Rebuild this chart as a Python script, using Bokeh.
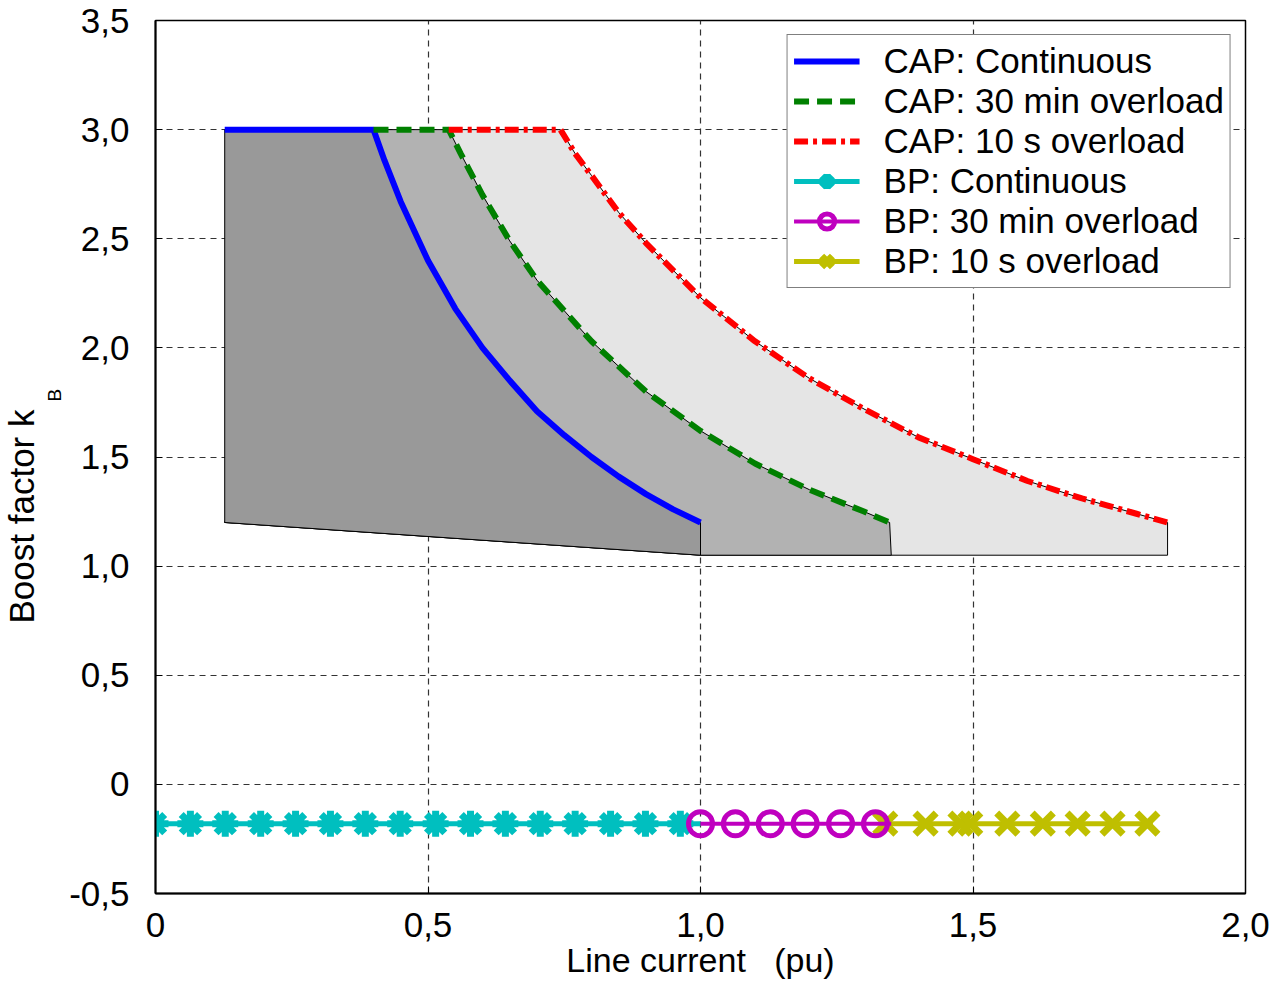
from bokeh.plotting import figure
from bokeh.models import Range1d, FixedTicker, Legend, LegendItem, Title
from bokeh.embed import file_html
from bokeh.resources import INLINE

# ---- data ----
cap_cont_x = [0.127, 0.40, 0.42, 0.45, 0.50, 0.55, 0.60, 0.65, 0.70, 0.75, 0.80, 0.85, 0.90, 0.95, 1.00]
cap_cont_y = [3.00, 3.00, 2.86, 2.67, 2.40, 2.18, 2.00, 1.85, 1.71, 1.60, 1.50, 1.41, 1.33, 1.26, 1.20]

cap_30m_x = [0.40, 0.538, 0.56, 0.60, 0.65, 0.70, 0.80, 0.90, 1.00, 1.10, 1.20, 1.30, 1.347]
cap_30m_y = [3.00, 3.00, 2.89, 2.70, 2.49, 2.31, 2.03, 1.80, 1.62, 1.47, 1.35, 1.25, 1.20]

cap_10s_x = [0.538, 0.743, 0.77, 0.80, 0.85, 0.90, 1.00, 1.10, 1.20, 1.30, 1.40, 1.50, 1.60, 1.70, 1.80, 1.857]
cap_10s_y = [3.00, 3.00, 2.89, 2.79, 2.62, 2.48, 2.23, 2.03, 1.86, 1.72, 1.59, 1.49, 1.39, 1.31, 1.24, 1.20]

# lower edge of the shaded operating regions
base_x = [1.00, 0.127]
base_y = [1.05, 1.20]
base_left_x = [0.127]
base_left_y = [1.20]

bp_cont_x = [0.0, 0.064, 0.128, 0.193, 0.257, 0.321, 0.385, 0.449, 0.514, 0.578,
             0.642, 0.706, 0.770, 0.835, 0.899, 0.963]
bp_cont_line_x = [0.0, 1.0]
bp_30m_x = [1.0, 1.064, 1.128, 1.192, 1.257, 1.321]
bp_30m_line_x = [1.0, 1.35]
bp_10s_x = [1.339, 1.413, 1.477, 1.495, 1.563, 1.628, 1.692, 1.756, 1.820]
bp_10s_line_x = [1.339, 1.830]
bp_level = -0.18

x_ticks = [0.0, 0.5, 1.0, 1.5, 2.0]
x_tick_labels = ["0", "0,5", "1,0", "1,5", "2,0"]
y_ticks = [-0.5, 0.0, 0.5, 1.0, 1.5, 2.0, 2.5, 3.0, 3.5]
y_tick_labels = ["-0,5", "0", "0,5", "1,0", "1,5", "2,0", "2,5", "3,0", "3,5"]

FONT = "Liberation Sans"

p = figure(frame_width=1090, frame_height=873,
           x_range=Range1d(0, 2.0), y_range=Range1d(-0.5, 3.5),
           output_backend="svg", toolbar_location=None,
           min_border_left=155, min_border_right=29, min_border_top=20, min_border_bottom=92)
p.background_fill_color = "white"
p.border_fill_color = "white"
p.outline_line_color = "black"
p.outline_line_width = 1.5

# shaded regions (light -> middle -> dark)
light_x = [0.127] + cap_10s_x + [1.857] + base_x
light_y = [1.20] + cap_10s_y + [1.05] + base_y
mid_x = [0.127, 0.40] + cap_30m_x[1:] + [1.35] + base_x
mid_y = [1.20, 3.00] + cap_30m_y[1:] + [1.05] + base_y
dark_x = base_left_x + cap_cont_x + base_x
dark_y = base_left_y + cap_cont_y + base_y

p.patch(light_x, light_y, fill_color="#e5e5e5", line_color="black", line_width=1)
p.patch(mid_x, mid_y, fill_color="#b2b2b2", line_color="black", line_width=1)
p.patch(dark_x, dark_y, fill_color="#999999", line_color="black", line_width=1)

r_cap1 = p.line(cap_cont_x, cap_cont_y, line_color="#0000ff", line_width=6)
r_cap2 = p.line(cap_30m_x, cap_30m_y, line_color="#008000", line_width=6, line_dash="15 8")
r_cap3 = p.line(cap_10s_x, cap_10s_y, line_color="#ff0000", line_width=6, line_dash="14 5 4 5")

cyan = "#00bfbf"
mag = "#bf00bf"
yel = "#bfbf00"
r_bp1l = p.line(bp_cont_line_x, [bp_level] * len(bp_cont_line_x), line_color=cyan, line_width=5)
r_bp1m = p.scatter(bp_cont_x, [bp_level] * len(bp_cont_x), marker="asterisk", size=26,
                   line_color=cyan, line_width=7)
r_bp3l = p.line(bp_10s_line_x, [bp_level] * len(bp_10s_line_x), line_color=yel, line_width=5)
r_bp3m = p.scatter(bp_10s_x, [bp_level] * len(bp_10s_x), marker="x", size=30,
                   line_color=yel, line_width=7)
r_bp2l = p.line(bp_30m_line_x, [bp_level] * len(bp_30m_line_x), line_color=mag, line_width=4)
r_bp2m = p.scatter(bp_30m_x, [bp_level] * len(bp_30m_x), marker="circle", size=24,
                   fill_color=None, line_color=mag, line_width=5)

# axes
p.xaxis.ticker = FixedTicker(ticks=x_ticks)
p.yaxis.ticker = FixedTicker(ticks=y_ticks)
p.xaxis.major_label_overrides = dict(zip(x_ticks, x_tick_labels))
p.yaxis.major_label_overrides = dict(zip(y_ticks, y_tick_labels))
for ax in (p.xaxis, p.yaxis):
    ax.major_label_text_font = FONT
    ax.major_label_text_font_size = "35px"
    ax.major_label_text_color = "black"
    ax.axis_line_color = "black"
    ax.axis_line_width = 2
    ax.major_tick_in = 7
    ax.major_tick_out = 0
    ax.major_tick_line_color = "black"
    ax.minor_tick_line_color = None
p.yaxis.major_label_standoff = 26
p.xaxis.major_label_standoff = 19
p.xaxis.axis_label = "Line current\u00a0\u00a0\u00a0(pu)"
p.xaxis.axis_label_text_font = FONT
p.xaxis.axis_label_text_font_size = "34px"
p.xaxis.axis_label_text_font_style = "normal"
p.xaxis.axis_label_text_color = "black"
p.xaxis.axis_label_standoff = 1

# grid
for g in (p.xgrid, p.ygrid):
    g.grid_line_color = "#333333"
    g.grid_line_dash = "6 5"
    g.grid_line_width = 1.2

# y-axis label: "Boost factor k" with subscript "B" (subscript column sits next to the axis)
p.add_layout(Title(text="B", align="left", offset=492, standoff=0,
                   text_font=FONT, text_font_size="19px", text_font_style="normal",
                   text_color="black", vertical_align="top"), "left")
p.add_layout(Title(text="Boost factor k", align="left", offset=270, standoff=1,
                   text_font=FONT, text_font_size="35px", text_font_style="normal",
                   text_color="black", vertical_align="top"), "left")

legend = Legend(items=[
    LegendItem(label="CAP: Continuous", renderers=[r_cap1]),
    LegendItem(label="CAP: 30 min overload", renderers=[r_cap2]),
    LegendItem(label="CAP: 10 s overload", renderers=[r_cap3]),
    LegendItem(label="BP: Continuous", renderers=[r_bp1l, r_bp1m]),
    LegendItem(label="BP: 30 min overload", renderers=[r_bp2l, r_bp2m]),
    LegendItem(label="BP: 10 s overload", renderers=[r_bp3l, r_bp3m]),
], location="top_right")
legend.label_text_font = FONT
legend.label_text_font_size = "35px"
legend.label_text_color = "black"
legend.glyph_width = 66
legend.glyph_height = 38
legend.label_height = 38
legend.spacing = 0
legend.padding = 6
legend.margin = 14
legend.label_standoff = 24
legend.border_line_color = "black"
legend.border_line_width = 1.5
legend.background_fill_alpha = 1.0
p.add_layout(legend)

open("out.html", "w").write(file_html(p, INLINE))
